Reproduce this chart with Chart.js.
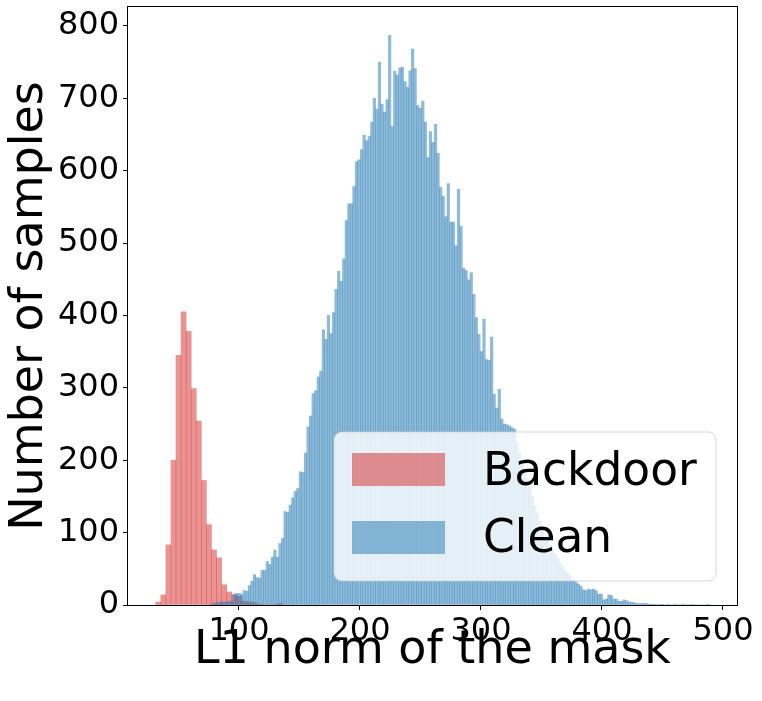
<!DOCTYPE html>
<html>
<head>
<meta charset="utf-8">
<script src="https://cdn.jsdelivr.net/npm/chart.js@4.4.0/dist/chart.umd.min.js"></script>
<style>
  html, body { margin: 0; padding: 0; background: #fff; }
</style>
</head>
<body>
<canvas id="histChart" width="762" height="701"></canvas>
<script>
const xTicks = [100, 200, 300, 400, 500];
const yTicks = [0, 100, 200, 300, 400, 500, 600, 700, 800];

// Backdoor histogram (wider bins)
const backdoorStart = 31.2;
const backdoorBinWidth = 4.19;
const backdoorCounts = [4, 14, 83, 200, 345, 405, 378, 299, 254, 172, 111, 76, 65, 28, 18, 14, 12, 5, 4, 3, 1, 0, 0, 0, 2];

// Clean histogram (narrow bins)
const cleanStart = 76.0;
const cleanBinWidth = 2.107;
const cleanCounts = [
  1, 2, 3, 3, 4, 4, 4, 5, 5,
  15, 16, 16, 15, 20, 19, 27, 33, 42, 38, 37, 48, 48, 60, 56, 66, 76, 66, 85, 92,
  129, 128, 138, 148, 157, 161, 184, 183, 210, 246, 261, 292, 296, 315, 323, 380, 367, 400, 375, 404,
  436, 461, 447, 478, 531, 554, 554, 578, 612, 615, 629, 649, 641, 647, 667, 700, 685, 750, 692, 681,
  698, 787, 661, 737, 732, 742, 743, 723, 715, 738, 768, 741, 690, 686, 696, 667, 618, 654, 639, 664,
  624, 577, 565, 536, 582, 529, 529, 496, 574, 523, 465, 462, 449, 459, 429, 397, 374, 350, 395, 339,
  338, 370, 291, 272, 298, 257, 250, 249, 247, 245, 243,
  225, 210, 195, 185, 175, 163, 150, 138, 127, 115, 104, 96, 90, 83, 76, 70, 64, 58, 53, 48, 44, 40, 35, 32, 29, 26,
  21, 20, 22, 21, 22, 20, 15, 15, 7, 8, 14, 13, 8, 8, 5, 5, 7, 6, 4, 4,
  3, 2, 2, 2, 2, 2, 1, 1, 1, 0, 1, 1, 0, 1, 0, 0, 1, 0, 0, 1,
  0, 0, 0, 1, 0, 0, 0, 0, 0, 1
];

const xMin = 8.3, xMax = 511.6;
const yMax = 826;

const FONT = '"DejaVu Sans", Verdana, sans-serif';

function toBars(start, width, counts) {
  return counts.map((c, i) => ({ x: start + width * (i + 0.5), y: c }));
}

// bar width in pixels from the bin width in data units
function binPixels(width) {
  return ctx => {
    const s = ctx.chart.scales.x;
    if (!s) return 2;
    return Math.abs(s.getPixelForValue(width) - s.getPixelForValue(0));
  };
}

const legendOrder = ['Backdoor', 'Clean'];

const frameAndLegend = {
  id: 'frameAndLegend',
  afterDatasetsDraw(chart) {
    const { ctx, chartArea: a } = chart;
    ctx.save();

    // legend box inside the axes, lower right
    const bx = a.right - 403, by = a.bottom - 173, bw = 382, bh = 149, r = 8;
    ctx.beginPath();
    ctx.moveTo(bx + r, by);
    ctx.lineTo(bx + bw - r, by);
    ctx.arcTo(bx + bw, by, bx + bw, by + r, r);
    ctx.lineTo(bx + bw, by + bh - r);
    ctx.arcTo(bx + bw, by + bh, bx + bw - r, by + bh, r);
    ctx.lineTo(bx + r, by + bh);
    ctx.arcTo(bx, by + bh, bx, by + bh - r, r);
    ctx.lineTo(bx, by + r);
    ctx.arcTo(bx, by, bx + r, by, r);
    ctx.closePath();
    ctx.fillStyle = 'rgba(255,255,255,0.8)';
    ctx.fill();
    ctx.strokeStyle = 'rgba(204,204,204,0.8)';
    ctx.lineWidth = 1;
    ctx.stroke();

    ctx.font = '45.5px ' + FONT;
    ctx.textBaseline = 'alphabetic';
    ctx.textAlign = 'left';
    legendOrder.forEach((label, i) => {
      const ds = chart.data.datasets.find(d => d.label === label);
      const py = by + 21 + i * 68;
      ctx.fillStyle = ds.backgroundColor;
      ctx.fillRect(bx + 18, py, 93, 33);
      ctx.fillStyle = '#000';
      ctx.fillText(label, bx + 149, by + 53 + i * 67);
    });

    // frame (all four spines)
    ctx.strokeStyle = '#000';
    ctx.lineWidth = 1;
    ctx.strokeRect(a.left - 0.5, a.top - 0.5, a.right - a.left + 1, a.bottom - a.top + 1);
    ctx.restore();
  }
};

new Chart(document.getElementById('histChart').getContext('2d'), {
  type: 'bar',
  data: {
    datasets: [
      {
        label: 'Backdoor',
        data: toBars(backdoorStart, backdoorBinWidth, backdoorCounts),
        backgroundColor: 'rgba(214,39,40,0.5)',
        borderWidth: 0,
        barThickness: binPixels(backdoorBinWidth),
        order: 1
      },
      {
        label: 'Clean',
        data: toBars(cleanStart, cleanBinWidth, cleanCounts),
        backgroundColor: 'rgba(31,119,180,0.5)',
        borderWidth: 0,
        barThickness: binPixels(cleanBinWidth),
        order: 0
      }
    ]
  },
  options: {
    responsive: false,
    animation: false,
    devicePixelRatio: 1,
    grouped: false,
    layout: { padding: { left: 0, right: 25, top: 7, bottom: 0 } },
    plugins: {
      legend: { display: false },
      tooltip: { enabled: false }
    },
    scales: {
      x: {
        type: 'linear',
        offset: false,
        min: xMin,
        max: xMax,
        afterBuildTicks: s => { s.ticks = xTicks.map(v => ({ value: v })); },
        afterFit: s => { s.height = 96; s.paddingLeft = 0; s.paddingRight = 0; },
        grid: { offset: false, drawOnChartArea: false, drawTicks: true, tickLength: 5, color: '#000' },
        border: { display: false },
        ticks: { color: '#000', font: { family: FONT, size: 32 }, padding: 2, maxRotation: 0 },
        title: {
          display: true,
          text: 'L1 norm of the mask',
          color: '#000',
          font: { family: FONT, size: 46 },
          padding: { top: 0, bottom: 22 }
        }
      },
      y: {
        min: 0,
        max: yMax,
        afterBuildTicks: s => { s.ticks = yTicks.map(v => ({ value: v })); },
        afterFit: s => { s.width = 128; s.paddingTop = 0; s.paddingBottom = 0; },
        grid: { drawOnChartArea: false, drawTicks: true, tickLength: 5, color: '#000' },
        border: { display: false },
        ticks: { color: '#000', font: { family: FONT, size: 32 }, padding: 4 },
        title: {
          display: true,
          text: 'Number of samples',
          color: '#000',
          font: { family: FONT, size: 46 },
          padding: { top: 2, bottom: 0 }
        }
      }
    }
  },
  plugins: [frameAndLegend]
});
</script>
</body>
</html>
